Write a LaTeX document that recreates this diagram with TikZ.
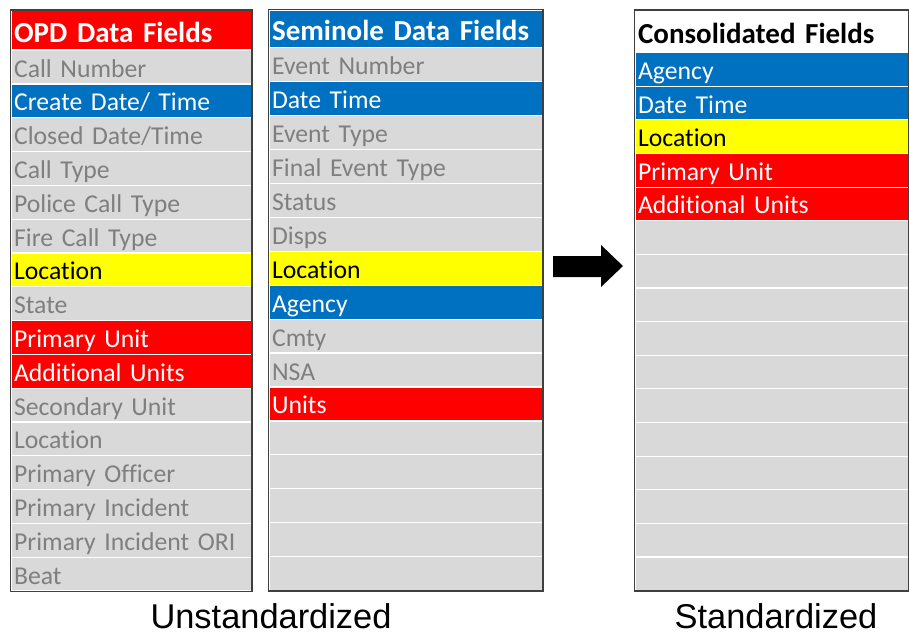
\documentclass[tikz,border=0pt]{standalone}
\usepackage{fontspec}
\setmainfont{Carlito}[Ligatures=NoCommon]
\newfontfamily\labelfont{Liberation Sans}
\definecolor{fieldred}{RGB}{255,0,0}
\definecolor{fieldblue}{RGB}{0,112,192}
\definecolor{fieldyellow}{RGB}{255,255,0}
\definecolor{fieldgray}{RGB}{217,217,217}
\definecolor{fieldtext}{RGB}{127,127,127}
\definecolor{framegray}{RGB}{64,64,64}
\tikzset{
  kplain/.style={fill=fieldgray, text=fieldtext},
  kblue/.style={fill=fieldblue, text=white},
  kred/.style={fill=fieldred, text=white},
  kyellow/.style={fill=fieldyellow, text=black},
  kwhite/.style={fill=white, text=black},
  cell/.style={rectangle, anchor=north west, draw=white, line width=1.2pt,
    inner xsep=3pt, inner ysep=0pt, align=left, text height=21pt, text depth=1pt, #1},
  headcell/.style={rectangle, anchor=north west, draw=white, line width=1.2pt,
    inner xsep=3pt, inner ysep=0pt, align=left, text height=27pt, text depth=3pt,
    font=\fontsize{29}{32}\selectfont\bfseries, #1},
  tableframe/.style={draw=framegray, line width=1.6pt},
  caption/.style={font=\labelfont\fontsize{34.4}{38}\selectfont, anchor=base, inner sep=0pt}
}
\begin{document}
\begin{tikzpicture}[x=1pt, y=-1pt, font=\fontsize{25.7}{30}\selectfont]
\useasboundingbox (0,0) rectangle (909,634);

% OPD column
\node[headcell=kred, text width=234pt, minimum height=39.5pt] (opd-h) at (10.5,10) {OPD Data Fields};
\foreach \txt/\kind [count=\i] in {Call Number/kplain, {Create Date/ Time}/kblue, {Closed Date/Time}/kplain,
  Call Type/kplain, Police Call Type/kplain, Fire Call Type/kplain, Location/kyellow, State/kplain,
  Primary Unit/kred, Additional Units/kred, Secondary Unit/kplain, Location/kplain,
  Primary Officer/kplain, Primary Incident/kplain, Primary Incident ORI/kplain, Beat/kplain}
  \node[cell=\kind, text width=234pt, minimum height=33.8pt] (opd-\i) at (10.5,{49.5+(\i-1)*33.8}) {\txt};
\draw[tableframe] (opd-h.north west) rectangle (opd-16.south east);

% Seminole column
\node[headcell=kblue, text width=267.5pt, minimum height=37.5pt] (sem-h) at (268.5,9.5) {Seminole Data Fields};
\foreach \txt/\kind [count=\i] in {Event Number/kplain, Date Time/kblue, Event Type/kplain,
  Final Event Type/kplain, Status/kplain, Disps/kplain, Location/kyellow, Agency/kblue,
  Cmty/kplain, NSA/kplain, Units/kred, {}/kplain, {}/kplain, {}/kplain, {}/kplain, {}/kplain}
  \node[cell=\kind, text width=267.5pt, minimum height=33.94pt] (sem-\i) at (268.5,{47+(\i-1)*33.94}) {\txt};
\draw[tableframe] (sem-h.north west) rectangle (sem-16.south east);

% Consolidated column
\node[headcell=kwhite, text width=267pt, minimum height=42pt] (con-h) at (634.5,10) {Consolidated Fields};
\foreach \txt/\kind [count=\i] in {Agency/kblue, Date Time/kblue, Location/kyellow,
  Primary Unit/kred, Additional Units/kred, {}/kplain, {}/kplain, {}/kplain, {}/kplain,
  {}/kplain, {}/kplain, {}/kplain, {}/kplain, {}/kplain, {}/kplain, {}/kplain}
  \node[cell=\kind, text width=267pt, minimum height=33.625pt] (con-\i) at (634.5,{52+(\i-1)*33.625}) {\txt};
\draw[tableframe] (con-h.north west) rectangle (con-16.south east);

% Block arrow between the tables
\fill[black] (553,256) -- (601,256) -- (601,245) -- (623,266) -- (601,287) -- (601,277) -- (553,277) -- cycle;

% Captions
\node[caption] (cap-un) at (271,628) {Unstandardized};
\node[caption] (cap-st) at (776,628) {Standardized};
\end{tikzpicture}
\end{document}
